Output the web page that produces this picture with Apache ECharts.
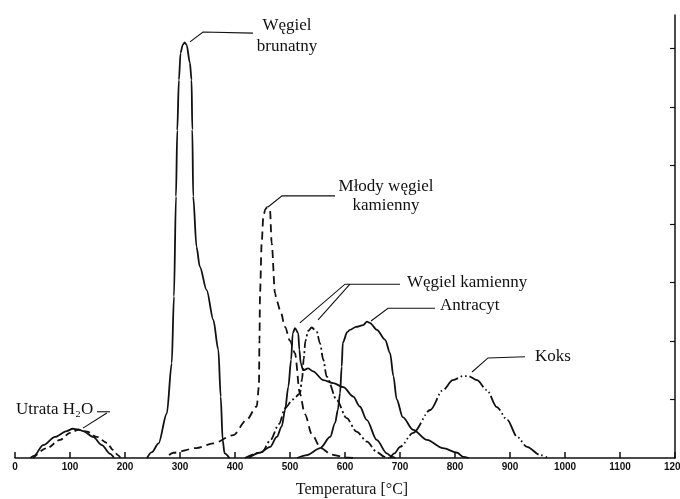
<!DOCTYPE html>
<html>
<head>
<meta charset="utf-8">
<script src="https://cdn.jsdelivr.net/npm/echarts@6/dist/echarts.min.js"></script>
<style>
  html, body { margin: 0; padding: 0; background: #fff; }
  #main { width: 680px; height: 499px; }
</style>
</head>
<body>
<div id="main"></div>
<script>
// temperatura [°C] -> wartosc (jednostki podzialki prawej osi)
var yTicks = [1, 2, 3, 4, 5, 6, 7];

var h2oSolid = [[28,0],[35,0.04],[51,0.22],[73,0.36],[94,0.46],[105,0.5],[115,0.49],[124,0.46],[142,0.36],[158,0.22],[173,0.07],[180,0]];
var h2oDashed = [[33,0],[58,0.17],[82,0.31],[100,0.43],[115,0.48],[131,0.45],[149,0.36],[167,0.26],[178,0.14],[187,0.05],[192,0]];

var brunatny = [[240,0],[249,0.1],[261,0.25],[276,0.76],[285,1.62],[289,2.76],[292.7,4.47],[295,5.6],[298,6.46],[301,6.92],[305,7.06],[308.5,7.1],[312,7.06],[318,6.75],[321,6.46],[322.4,5.61],[324,4.47],[330,3.61],[336,3.27],[348.5,2.87],[360.6,2.36],[369.7,1.85],[374,1.05],[377.6,0.31],[381,0.08],[390,0]];

var mlody = [[280,0.05],[288,0.09],[330,0.17],[360.5,0.25],[397,0.39],[421,0.65],[439.5,0.88],[443.5,1.22],[444.5,2.02],[445.5,2.82],[448.5,3.67],[451.5,4.12],[455,4.25],[459,4.29],[463.6,4.24],[466.7,3.67],[472.7,2.82],[476,2.68],[483,2.5],[491,2.24],[500,2.0],[509,1.79],[518,1.1],[527,0.75],[540,0.4],[556,0.17],[575,0.06],[600,0.01],[615,0]];

var kamiennySolid = [[425,0],[445,0.09],[464,0.19],[476,0.36],[485,0.54],[491,0.82],[497,1.22],[502,1.68],[505,2.13],[509,2.22],[515,2.13],[517,1.85],[519.5,1.62],[524,1.5],[533,1.53],[542,1.48],[560.5,1.33],[578.7,1.28],[597,1.21],[615,1.05],[627,0.88],[639.5,0.65],[657.6,0.31],[676,0.08],[685,0.02],[692,0]];
var kamiennyDashDot = [[418,0],[449,0.1],[464,0.3],[480,0.58],[491,0.85],[505,1.0],[518,1.1],[522,1.35],[525,1.7],[528,2.0],[533,2.17],[539.4,2.23],[548.5,2.16],[554.5,1.96],[560.5,1.68],[566.7,1.39],[585,0.99],[603,0.68],[621,0.45],[640,0.28],[658,0.1],[672,0.02],[680,0]];

var antracyt = [[513,0],[531,0.05],[555,0.17],[573,0.36],[582,0.6],[587,0.82],[591,1.11],[594,1.56],[596,1.97],[604,2.15],[609,2.19],[620,2.24],[633,2.27],[640,2.33],[645,2.31],[658,2.19],[673,2.02],[682,1.79],[688,1.4],[694,1.0],[705,0.7],[724,0.48],[749,0.31],[778,0.17],[804,0.09],[815,0.02],[825,0]];

var koks = [[682,0],[690,0.08],[700,0.19],[724,0.43],[755,0.82],[778,1.16],[796,1.33],[815,1.4],[824,1.4],[840,1.33],[858,1.16],[876,0.87],[895,0.65],[913,0.36],[931,0.19],[955,0.05],[969,0]];

// opisy i linie odniesienia (we wspolrzednych danych)
var labels = [
  { text: 'Węgiel\nbrunatny', at: [494.5, 7.21], align: 'center', lh: 21 },
  { text: 'Młody węgiel\nkamienny', at: [674.5, 4.48], align: 'center', lh: 19 },
  { text: 'Węgiel kamienny', at: [712.7, 2.99], align: 'left', lh: 19 },
  { text: 'Antracyt', at: [772.7, 2.6], align: 'left', lh: 19 },
  { text: 'Koks', at: [945.5, 1.74], align: 'left', lh: 19 },
  { text: 'Utrata H₂O', at: [1.8, 0.82], align: 'left', lh: 19 }
];
var leaders = [
  [[432.7,7.26],[341.8,7.28],[318.2,7.11]],
  [[581.8,4.48],[485.5,4.48],[460,4.29]],
  [[700,2.97],[600,2.97],[518,2.31]],
  [[609,2.97],[551,2.36]],
  [[763.6,2.56],[678.2,2.56],[647.3,2.34]],
  [[927.3,1.73],[860,1.71],[831,1.47]],
  [[149,0.79],[172.7,0.79]],
  [[167,0.77],[123.6,0.51]]
];

var chart = echarts.init(document.getElementById('main'));

function curve(data, dash) {
  return {
    type: 'line',
    data: data,
    smooth: 0.3,
    smoothMonotone: 'x',
    symbol: 'none',
    silent: true,
    lineStyle: { color: '#111', width: 1.8, type: dash }
  };
}

var option = {
  animation: false,
  backgroundColor: '#fff',
  grid: { left: 15, right: 5, top: 15, bottom: 41, outerBoundsMode: 'none', containLabel: false },
  xAxis: {
    type: 'value', min: 0, max: 1200, interval: 100,
    name: 'Temperatura [°C]', nameLocation: 'middle', nameGap: 24,
    nameTextStyle: { fontFamily: 'Liberation Serif', fontSize: 16, color: '#111', padding: [0, 0, 0, 14] },
    axisLine: { lineStyle: { color: '#111', width: 1.5 } },
    axisTick: { inside: true, length: 6, lineStyle: { color: '#111', width: 1.5 } },
    axisLabel: {
      margin: 4, fontSize: 10, fontWeight: 'bold', color: '#111',
      fontFamily: 'Liberation Sans Narrow, Liberation Sans, sans-serif',
      formatter: function (v) { return String(v); }
    },
    splitLine: { show: false }
  },
  yAxis: {
    type: 'value', position: 'right', min: 0, max: 7.57,
    axisLine: { show: true, onZero: false, lineStyle: { color: '#111', width: 1.5 } },
    axisTick: { show: true, inside: true, length: 5, customValues: yTicks, lineStyle: { color: '#111', width: 1.2 } },
    axisLabel: { show: false },
    splitLine: { show: false }
  },
  series: [
    curve(h2oSolid, 'solid'),
    curve(h2oDashed, [6, 4]),
    curve(brunatny, 'solid'),
    curve(mlody, [8, 5]),
    curve(kamiennySolid, 'solid'),
    curve(kamiennyDashDot, [9, 3, 2, 3]),
    curve(antracyt, 'solid'),
    curve(koks, [18, 3, 1.5, 3, 1.5, 3])
  ]
};
chart.setOption(option);

function px(p) { return chart.convertToPixel({ gridIndex: 0 }, p); }
var graphics = [];
labels.forEach(function (l) {
  var p = px(l.at);
  graphics.push({
    type: 'text', x: p[0], y: p[1], silent: true,
    style: {
      text: l.text, fontFamily: 'Liberation Serif', fontSize: 17, fill: '#111',
      align: l.align, textAlign: l.align, verticalAlign: 'middle', textVerticalAlign: 'middle',
      lineHeight: l.lh
    }
  });
});
leaders.forEach(function (path) {
  graphics.push({
    type: 'polyline', silent: true,
    shape: { points: path.map(px) },
    style: { stroke: '#111', lineWidth: 1.1, fill: null }
  });
});
chart.setOption({ graphic: graphics });
</script>
</body>
</html>
